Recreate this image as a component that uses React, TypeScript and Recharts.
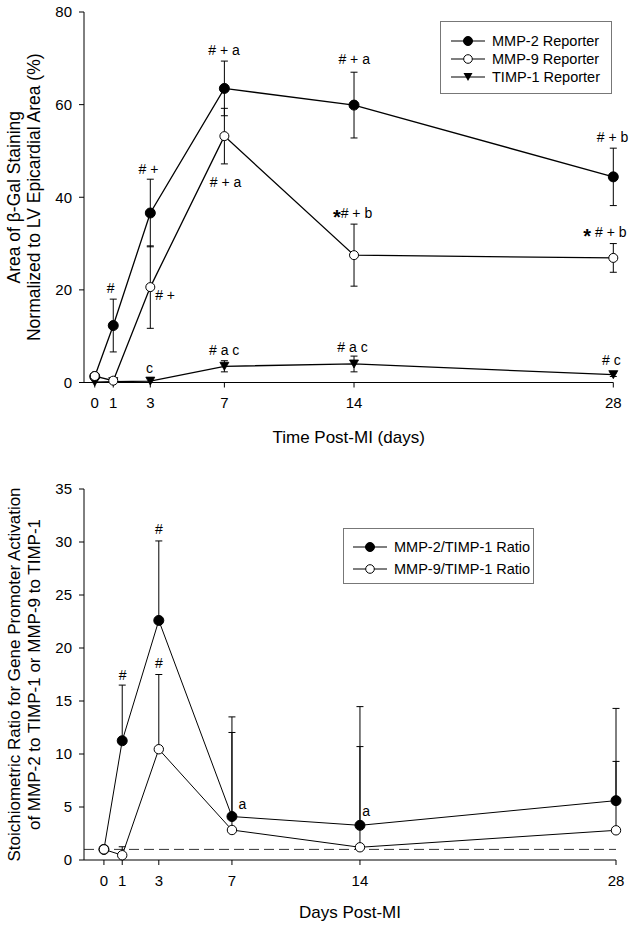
import React from 'react';
import { LineChart, Line, XAxis, YAxis, ErrorBar, ReferenceLine, ReferenceDot, Legend } from 'recharts';

const FONT = "Arial, 'Liberation Sans', Helvetica, sans-serif";

// ---------- Top panel: reporter staining ----------
const days = [0, 1, 3, 7, 14, 28];
const dayTicks = [0, 1, 3, 7, 14, 28];
const topYTicks = [0, 20, 40, 60, 80];
const mmp2Reporter = [1.3, 12.3, 36.6, 63.5, 59.9, 44.4];
const mmp2ReporterErr = [0, 5.7, 7.3, 5.9, 7.1, 6.2];
const mmp9Reporter = [1.4, 0.4, 20.6, 53.2, 27.5, 26.9];
const mmp9ReporterErr = [0, 0, 8.9, 6.0, 6.7, 3.1];
const timp1Reporter = [0.1, 0.2, 0.3, 3.5, 4.0, 1.7];
const timp1ReporterErr = [0, 0, 0, 1.2, 1.7, 0.4];

const topNotes = [
  { x: 0.86, y: 20.4, text: '#' },
  { x: 2.9, y: 46.2, text: '# +' },
  { x: 3.8, y: 18.8, text: '# +' },
  { x: 6.98, y: 71.9, text: '# + a' },
  { x: 7.06, y: 43.4, text: '# + a' },
  { x: 2.95, y: 3.2, text: 'c' },
  { x: 6.99, y: 7.0, text: '# a c' },
  { x: 14.01, y: 69.9, text: '# + a' },
  { x: 13.92, y: 36.6, text: '*# + b' },
  { x: 13.92, y: 7.7, text: '# a c' },
  { x: 27.96, y: 53.0, text: '# + b' },
  { x: 27.55, y: 32.6, text: '* # + b' },
  { x: 27.9, y: 4.9, text: '# c' },
];

// ---------- Bottom panel: stoichiometric ratios ----------
const bottomYTicks = [0, 5, 10, 15, 20, 25, 30, 35];
const mmp2Ratio = [1.0, 11.25, 22.6, 4.1, 3.27, 5.6];
const mmp2RatioErrUp = [0, 5.25, 7.5, 9.4, 11.2, 8.7];
const mmp9Ratio = [1.0, 0.45, 10.45, 2.83, 1.2, 2.8];
const mmp9RatioErrUp = [0, 0.8, 7.05, 9.2, 9.5, 6.5];
const unityLine = 1;

const bottomNotes = [
  { x: 1.03, y: 17.5, text: '#' },
  { x: 3.0, y: 31.2, text: '#' },
  { x: 3.0, y: 18.6, text: '#' },
  { x: 7.57, y: 5.3, text: 'a' },
  { x: 14.34, y: 4.65, text: 'a' },
];

const topData = days.map((d, i) => ({
  day: d,
  mmp2: mmp2Reporter[i],
  mmp2Err: mmp2ReporterErr[i],
  mmp9: mmp9Reporter[i],
  mmp9Err: mmp9ReporterErr[i],
  timp1: timp1Reporter[i],
  timp1Err: timp1ReporterErr[i],
}));

const bottomData = days.map((d, i) => ({
  day: d,
  r2: mmp2Ratio[i],
  r2Err: mmp2RatioErrUp[i] ? [0, mmp2RatioErrUp[i]] : 0,
  r9: mmp9Ratio[i],
  r9Err: mmp9RatioErrUp[i] ? [0, mmp9RatioErrUp[i]] : 0,
}));

const TriDown = (p: any) => {
  const { cx, cy } = p;
  if (cx == null || cy == null) return <g />;
  return <path d={`M${cx - 4.5},${cy - 4} L${cx + 4.5},${cy - 4} L${cx},${cy + 4} Z`} fill="#000" stroke="#000" strokeWidth={0.8} />;
};

const noteShape = (text: string) => (p: any) => {
  const star = text.startsWith('*');
  const rest = star ? text.slice(1) : text;
  return (
    <text x={p.cx} y={p.cy + 5} textAnchor="middle" fontSize={14} fontFamily={FONT} fill="#000">
      {star && <tspan fontSize={20} fontWeight="bold" dy={6.5}>*</tspan>}
      <tspan dy={star ? -6.5 : 0}>{rest}</tspan>
    </text>
  );
};

const Glyph = ({ kind }: { kind: string }) => (
  <svg width={34} height={14} style={{ position: 'absolute', left: 0, top: -7 }}>
    <line x1={0} y1={7} x2={34} y2={7} stroke="#000" strokeWidth={1.2} />
    {kind === 'filled' && <circle cx={17} cy={7} r={4.5} fill="#000" stroke="#000" />}
    {kind === 'open' && <circle cx={17} cy={7} r={4.3} fill="#fff" stroke="#000" />}
    {kind === 'tri' && <path d="M12.5,3 L21.5,3 L17,11 Z" fill="#000" />}
  </svg>
);

const topLegendItems = [
  { name: 'MMP-2 Reporter', kind: 'filled' },
  { name: 'MMP-9 Reporter', kind: 'open' },
  { name: 'TIMP-1 Reporter', kind: 'tri' },
];
const bottomLegendItems = [
  { name: 'MMP-2/TIMP-1 Ratio', kind: 'filled' },
  { name: 'MMP-9/TIMP-1 Ratio', kind: 'open' },
];

const makeLegend = (items: { name: string; kind: string }[], w: number, h: number, rowTop: number, rowGap: number, lineLeft: number, textLeft: number) => () => (
  <div style={{ position: 'relative', width: w, height: h, border: '1px solid #777', boxSizing: 'border-box', background: '#fff', fontFamily: FONT, fontSize: 14.5, color: '#000' }}>
    {items.map((it, i) => (
      <div key={it.name} style={{ position: 'absolute', left: 0, top: rowTop + i * rowGap, width: '100%' }}>
        <div style={{ position: 'absolute', left: lineLeft, top: 0 }}>
          <Glyph kind={it.kind} />
        </div>
        <div style={{ position: 'absolute', left: textLeft, top: -9, whiteSpace: 'nowrap', lineHeight: '18px' }}>{it.name}</div>
      </div>
    ))}
  </div>
);

const yTitle = (l1: string, l2: string, fs: number) => (p: any) => {
  const vb = p.viewBox || {};
  const cy = vb.y + vb.height / 2;
  return (
    <g fontFamily={FONT} fontSize={fs} fill="#000">
      <text x={19.5} y={cy} textAnchor="middle" transform={`rotate(-90 19.5 ${cy})`}>{l1}</text>
      <text x={40} y={cy} textAnchor="middle" transform={`rotate(-90 40 ${cy})`}>{l2}</text>
    </g>
  );
};

const xTitle = (t: string, dyv: number) => (p: any) => {
  const vb = p.viewBox || {};
  return (
    <text x={vb.x + vb.width / 2} y={vb.y + dyv} textAnchor="middle" fontFamily={FONT} fontSize={17} fill="#000">{t}</text>
  );
};

const tickStyle = { fill: '#000', fontSize: 15, fontFamily: FONT };

export default function App() {
  return (
    <div style={{ position: 'absolute', left: 0, top: 0, width: 636, height: 928, background: '#fff', fontFamily: FONT }}>
      <div style={{ position: 'absolute', left: 0, top: 0 }}>
        <LineChart width={636} height={460} data={topData} margin={{ top: 12, right: 22.7, bottom: 0, left: 0 }}>
          <XAxis
            dataKey="day"
            type="number"
            domain={[-0.58, 28]}
            ticks={dayTicks}
            height={77.5}
            tickSize={5}
            tickMargin={10}
            axisLine={{ stroke: '#000' }}
            tickLine={{ stroke: '#000' }}
            tick={tickStyle}
            label={{ content: xTitle('Time Post-MI (days)', 60.5) }}
          />
          <YAxis
            type="number"
            domain={[0, 80]}
            ticks={topYTicks}
            width={84}
            tickSize={5}
            tickMargin={7}
            axisLine={{ stroke: '#000' }}
            tickLine={{ stroke: '#000' }}
            tick={tickStyle}
            label={{ content: yTitle('Area of \u03B2-Gal Staining', 'Normalized to LV Epicardial Area (%)', 17.5) }}
          />
          <Legend
            layout="vertical"
            align="center"
            verticalAlign="middle"
            wrapperStyle={{ left: 440, top: 21, width: 172, height: 73 }}
            content={makeLegend(topLegendItems, 172, 73, 19, 18, 10, 51)}
          />
          <Line dataKey="timp1" name="TIMP-1 Reporter" type="linear" stroke="#000" strokeWidth={1.3} isAnimationActive={false} activeDot={false} dot={(p: any) => <TriDown key={`t${p.index}`} {...p} />}>
            <ErrorBar dataKey="timp1Err" width={3.5} stroke="#000" strokeWidth={1} direction="y" />
          </Line>
          <Line dataKey="mmp2" name="MMP-2 Reporter" type="linear" stroke="#000" strokeWidth={1.3} isAnimationActive={false} activeDot={false} dot={{ r: 5, fill: '#000', stroke: '#000', strokeWidth: 1 }}>
            <ErrorBar dataKey="mmp2Err" width={3.5} stroke="#000" strokeWidth={1} direction="y" />
          </Line>
          <Line dataKey="mmp9" name="MMP-9 Reporter" type="linear" stroke="#000" strokeWidth={1.3} isAnimationActive={false} activeDot={false} dot={{ r: 4.5, fill: '#fff', stroke: '#000', strokeWidth: 1 }}>
            <ErrorBar dataKey="mmp9Err" width={3.5} stroke="#000" strokeWidth={1} direction="y" />
          </Line>
          {topNotes.map((n, i) => (
            <ReferenceDot key={`tn${i}`} x={n.x} y={n.y} ifOverflow="visible" shape={noteShape(n.text)} />
          ))}
        </LineChart>
      </div>
      <div style={{ position: 'absolute', left: 0, top: 460 }}>
        <LineChart width={636} height={468} data={bottomData} margin={{ top: 29, right: 20, bottom: 0, left: 0 }}>
          <XAxis
            dataKey="day"
            type="number"
            domain={[-1.09, 28]}
            ticks={dayTicks}
            height={68}
            tickSize={5}
            tickMargin={10}
            axisLine={{ stroke: '#000' }}
            tickLine={{ stroke: '#000' }}
            tick={tickStyle}
            label={{ content: xTitle('Days Post-MI', 58) }}
          />
          <YAxis
            type="number"
            domain={[0, 35]}
            ticks={bottomYTicks}
            width={84}
            tickSize={5}
            tickMargin={7}
            axisLine={{ stroke: '#000' }}
            tickLine={{ stroke: '#000' }}
            tick={tickStyle}
            label={{ content: yTitle('Stoichiometric Ratio for Gene Promoter Activation', 'of MMP-2 to TIMP-1 or MMP-9 to TIMP-1', 17) }}
          />
          <Legend
            layout="vertical"
            align="center"
            verticalAlign="middle"
            wrapperStyle={{ left: 343, top: 68, width: 191, height: 56 }}
            content={makeLegend(bottomLegendItems, 191, 56, 17.5, 22, 9, 50)}
          />
          <ReferenceLine y={unityLine} stroke="#333" strokeWidth={1} strokeDasharray="10 5" />
          <Line dataKey="r2" name="MMP-2/TIMP-1 Ratio" type="linear" stroke="#000" strokeWidth={1} isAnimationActive={false} activeDot={false} dot={{ r: 5, fill: '#000', stroke: '#000', strokeWidth: 1 }}>
            <ErrorBar dataKey="r2Err" width={3.5} stroke="#000" strokeWidth={1} direction="y" />
          </Line>
          <Line dataKey="r9" name="MMP-9/TIMP-1 Ratio" type="linear" stroke="#000" strokeWidth={1} isAnimationActive={false} activeDot={false} dot={{ r: 4.7, fill: '#fff', stroke: '#000', strokeWidth: 1 }}>
            <ErrorBar dataKey="r9Err" width={3.5} stroke="#000" strokeWidth={1} direction="y" />
          </Line>
          {bottomNotes.map((n, i) => (
            <ReferenceDot key={`bn${i}`} x={n.x} y={n.y} ifOverflow="visible" shape={noteShape(n.text)} />
          ))}
        </LineChart>
      </div>
    </div>
  );
}
